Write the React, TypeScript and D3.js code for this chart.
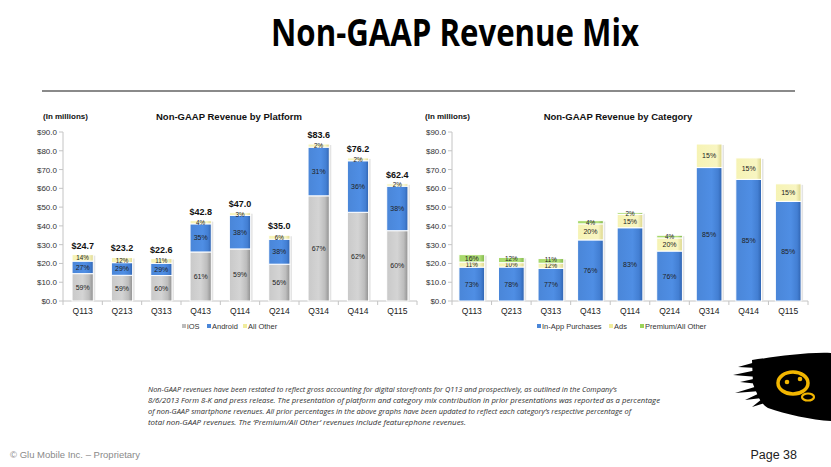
import { useEffect, useRef } from 'react';
import * as d3 from 'd3';

const quarters = ['Q113', 'Q213', 'Q313', 'Q413', 'Q114', 'Q214', 'Q314', 'Q414', 'Q115'];
const revenueTotals = [24.7, 23.2, 22.6, 42.8, 47.0, 35.0, 83.6, 76.2, 62.4];

// platform mix (% of total)
const iosPct = [59, 59, 60, 61, 59, 56, 67, 62, 60];
const androidPct = [27, 29, 29, 35, 38, 38, 31, 36, 38];
const allOtherPct = [14, 12, 11, 4, 3, 6, 2, 2, 2];

// category mix (% of total)
const inAppPct = [73, 78, 77, 76, 83, 76, 85, 85, 85];
const adsPct = [11, 10, 12, 20, 15, 20, 15, 15, 15];
const premiumPct = [16, 12, 11, 4, 2, 4, 0, 0, 0];

const yTicks = [0, 10, 20, 30, 40, 50, 60, 70, 80, 90];

const footnoteLines = [
  'Non-GAAP revenues have been restated to reflect gross accounting for digital storefronts for Q113 and prospectively, as outlined in the Company\u2019s',
  '8/6/2013 Form 8-K and press release. The presentation of platform and category mix contribution in prior presentations was reported as a percentage',
  'of non-GAAP smartphone revenues. All prior percentages in the above graphs have been updated to reflect each category\u2019s respective percentage of',
  'total non-GAAP revenues. The \u2018Premium/All Other\u2019 revenues include featurephone revenues.',
];

const ARIAL = '"Liberation Sans", Arial, sans-serif';

interface Series {
  name: string;
  pct: number[];
  fill: string;
  swatch: string;
}

interface PanelOpts {
  x0: number;
  x1: number;
  padding: number;
  title: string;
  titleX: number;
  unitX: number;
  series: Series[];
  showTotals: boolean;
  legendX: number[];
}

export default function App() {
  const svgRef = useRef<SVGSVGElement>(null);

  useEffect(() => {
    document.body.style.margin = '0';
    if (!svgRef.current) return;
    const svg = d3.select(svgRef.current);
    svg.selectAll('*').remove();

    const defs = svg.append('defs');
    const grad = (id: string, stops: [number, string][]) => {
      const g = defs.append('linearGradient').attr('id', id).attr('x1', 0).attr('x2', 1).attr('y1', 0).attr('y2', 0);
      stops.forEach(([o, c]) => g.append('stop').attr('offset', o).attr('stop-color', c));
    };
    grad('grey', [[0, '#c9c9c9'], [0.5, '#d4d4d4'], [0.8, '#bdbdbd'], [1, '#8f8f8f']]);
    grad('blue', [[0, '#4a86d8'], [0.6, '#4f8ee4'], [0.85, '#437fd3'], [1, '#2f63b0']]);
    grad('yellow', [[0, '#f6f3b4'], [0.8, '#f8f5c2'], [1, '#dcd68a']]);
    grad('green', [[0, '#a6d86a'], [0.8, '#b3e07a'], [1, '#7fb648']]);

    // title + rule
    svg.append('text')
      .attr('x', 455).attr('y', 46)
      .attr('text-anchor', 'middle')
      .attr('font-family', '"Open Sans", sans-serif')
      .attr('font-weight', 700)
      .attr('font-size', 37)
      .attr('textLength', 368)
      .attr('lengthAdjust', 'spacingAndGlyphs')
      .attr('fill', '#000')
      .text('Non-GAAP Revenue Mix');
    svg.append('line')
      .attr('x1', 42).attr('x2', 795).attr('y1', 91).attr('y2', 91)
      .attr('stroke', '#8a8a8a').attr('stroke-width', 2);

    const y = d3.scaleLinear().domain([0, 90]).range([301, 132]);

    const drawPanel = (o: PanelOpts) => {
      const g = svg.append('g');
      const x = d3.scaleBand<string>().domain(quarters).range([o.x0, o.x1]).paddingInner(o.padding).paddingOuter(o.padding / 2);

      g.append('text').attr('x', o.unitX).attr('y', 119)
        .attr('font-family', ARIAL).attr('font-weight', 700).attr('font-size', 8).attr('fill', '#111')
        .text('(In millions)');
      g.append('text').attr('x', o.titleX).attr('y', 120).attr('text-anchor', 'middle')
        .attr('font-family', ARIAL).attr('font-weight', 700).attr('font-size', 9.5).attr('fill', '#111')
        .text(o.title);

      // y axis
      g.append('line').attr('x1', o.x0).attr('x2', o.x0).attr('y1', y(90)).attr('y2', y(0)).attr('stroke', '#c4c4c4');
      yTicks.forEach((t) => {
        g.append('line').attr('x1', o.x0 - 4).attr('x2', o.x0).attr('y1', y(t)).attr('y2', y(t)).attr('stroke', '#c4c4c4');
        g.append('text').attr('x', o.x0 - 6).attr('y', y(t) + 3).attr('text-anchor', 'end')
          .attr('font-family', ARIAL).attr('font-size', 8).attr('fill', '#333')
          .text(`$${t.toFixed(1)}`);
      });
      // x axis
      g.append('line').attr('x1', o.x0).attr('x2', o.x1).attr('y1', y(0)).attr('y2', y(0)).attr('stroke', '#c4c4c4');
      const step = x.step();
      d3.range(quarters.length + 1).forEach((i) => {
        const xx = o.x0 + i * step;
        g.append('line').attr('x1', xx).attr('x2', xx).attr('y1', y(0)).attr('y2', y(0) + 4).attr('stroke', '#c4c4c4');
      });
      quarters.forEach((q) => {
        g.append('text').attr('x', (x(q) ?? 0) + x.bandwidth() / 2).attr('y', 314).attr('text-anchor', 'middle')
          .attr('font-family', ARIAL).attr('font-size', 8.5).attr('fill', '#222')
          .text(q);
      });

      const bw = x.bandwidth();
      quarters.forEach((q, i) => {
        const bx = x(q) ?? 0;
        const total = revenueTotals[i];
        // soft shadow
        g.append('rect').attr('x', bx + 2).attr('y', y(total) + 1).attr('width', bw).attr('height', y(0) - y(total) - 1)
          .attr('fill', '#e4e4e4');
        let acc = 0;
        let lastLabelY = Infinity;
        o.series.forEach((s) => {
          const v = (total * s.pct[i]) / 100;
          if (v <= 0) return;
          const top = acc + v;
          g.append('rect').attr('x', bx).attr('y', y(top)).attr('width', bw).attr('height', y(acc) - y(top))
            .attr('fill', s.fill).attr('stroke', '#fff').attr('stroke-width', 1);
          // keep small stacked labels from sitting on each other
          let ly = (y(acc) + y(top)) / 2 + 2.5;
          if (ly > lastLabelY - 6.5) ly = lastLabelY - 6.5;
          const small = y(acc) - y(top) < 7;
          g.append('text').attr('x', bx + bw / 2).attr('y', ly).attr('text-anchor', 'middle')
            .attr('font-family', ARIAL).attr('font-size', small ? 6.3 : 7).attr('fill', '#222')
            .text(`${s.pct[i]}%`);
          lastLabelY = ly;
          acc = top;
        });
        if (o.showTotals) {
          g.append('text').attr('x', bx + bw / 2).attr('y', y(total) - 6).attr('text-anchor', 'middle')
            .attr('font-family', ARIAL).attr('font-weight', 700).attr('font-size', 9).attr('fill', '#111')
            .text(`$${total.toFixed(1)}`);
        }
      });

      // legend
      o.series.forEach((s, i) => {
        const lx = o.legendX[i];
        g.append('rect').attr('x', lx).attr('y', 324).attr('width', 4).attr('height', 4).attr('fill', s.swatch);
        g.append('text').attr('x', lx + 5).attr('y', 328.5)
          .attr('font-family', ARIAL).attr('font-size', 7.5).attr('fill', '#333')
          .text(s.name);
      });
    };

    drawPanel({
      x0: 63, x1: 417, padding: 0.46,
      title: 'Non-GAAP  Revenue by Platform', titleX: 229, unitX: 43,
      showTotals: true,
      legendX: [182, 207, 243],
      series: [
        { name: 'iOS', pct: iosPct, fill: 'url(#grey)', swatch: '#bcbcbc' },
        { name: 'Android', pct: androidPct, fill: 'url(#blue)', swatch: '#4a86d8' },
        { name: 'All Other', pct: allOtherPct, fill: 'url(#yellow)', swatch: '#f0ec9c' },
      ],
    });

    drawPanel({
      x0: 452, x1: 808, padding: 0.35,
      title: 'Non-GAAP  Revenue by Category', titleX: 618, unitX: 425,
      showTotals: false,
      legendX: [537, 609, 640],
      series: [
        { name: 'In-App Purchases', pct: inAppPct, fill: 'url(#blue)', swatch: '#4a86d8' },
        { name: 'Ads', pct: adsPct, fill: 'url(#yellow)', swatch: '#f0ec9c' },
        { name: 'Premium/All Other', pct: premiumPct, fill: 'url(#green)', swatch: '#9bd35a' },
      ],
    });

    // footnote
    footnoteLines.forEach((line, i) => {
      const t = svg.append('text').attr('x', 148).attr('y', 392 + i * 11)
        .attr('font-family', '"Open Sans", sans-serif').attr('font-style', 'italic').attr('font-size', 7.8)
        .attr('fill', '#2e2e2e')
        .text(line);
      if (i < 3) t.attr('textLength', [469, 512, 483][i]).attr('lengthAdjust', 'spacingAndGlyphs');
      else t.attr('textLength', 318).attr('lengthAdjust', 'spacingAndGlyphs');
    });

    // footer
    svg.append('text').attr('x', 10).attr('y', 458)
      .attr('font-family', ARIAL).attr('font-size', 9.5).attr('fill', '#8a8a8a')
      .text('\u00a9 Glu Mobile Inc. \u2013 Proprietary');
    svg.append('text').attr('x', 797).attr('y', 459).attr('text-anchor', 'end')
      .attr('font-family', ARIAL).attr('font-size', 12.5).attr('fill', '#222')
      .text('Page 38');

    // logo: brush-stroke blob with ragged left edge
    const logo = svg.append('g');
    logo.append('path')
      .attr('d', 'M752,360 C775,357 805,352 831,353 L831,421 C812,420 785,414 768,408 C762,404 760,400 758,396 L753,384 Z')
      .attr('fill', '#000');
    const streaks = [
      'M756,362 L738,367 L757,368 Z',
      'M757,370 L733,375 L758,377 Z',
      'M758,378 L740,382 L759,384 Z',
      'M758,386 L735,393 L760,391 Z',
      'M760,393 L745,400 L762,398 Z',
      'M762,399 L752,407 L765,403 Z',
    ];
    streaks.forEach((d) => logo.append('path').attr('d', d).attr('fill', '#000'));
    logo.append('ellipse').attr('cx', 793).attr('cy', 383).attr('rx', 15).attr('ry', 11)
      .attr('fill', 'none').attr('stroke', '#f2b600').attr('stroke-width', 3.5);
    logo.append('ellipse').attr('cx', 808).attr('cy', 397).attr('rx', 6).attr('ry', 3.5)
      .attr('fill', 'none').attr('stroke', '#f2b600').attr('stroke-width', 2.2);
    logo.append('circle').attr('cx', 787).attr('cy', 382).attr('r', 2.3).attr('fill', '#f2b600');
    logo.append('circle').attr('cx', 800).attr('cy', 379).attr('r', 2.3).attr('fill', '#f2b600');
  }, []);

  return (
    <svg
      ref={svgRef}
      width={831}
      height={467}
      viewBox="0 0 831 467"
      style={{ display: 'block', background: '#fff' }}
      role="img"
      aria-label="Non-GAAP revenue mix by platform and category"
    />
  );
}
